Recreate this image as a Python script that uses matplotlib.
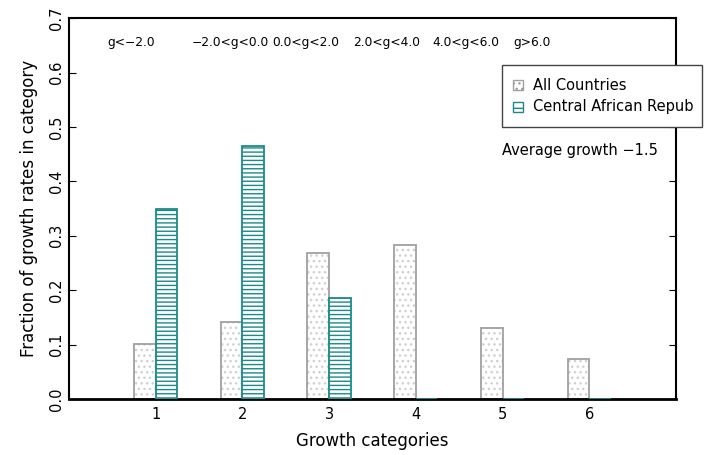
import matplotlib.pyplot as plt
import matplotlib.patches as mpatches
import numpy as np

plt.rcParams['font.family'] = ['DejaVu Sans']
plt.rcParams['hatch.linewidth'] = 1.0

# 数据
categories = [1, 2, 3, 4, 5, 6]
all_countries = [0.101, 0.142, 0.269, 0.284, 0.131, 0.073]
car = [0.349, 0.466, 0.186, 0.0, 0.0, 0.0]
range_labels = ['g<\u22122.0', '\u22122.0<g<0.0', '0.0<g<2.0', '2.0<g<4.0', '4.0<g<6.0', 'g>6.0']
label_x = [0.44, 1.42, 2.34, 3.28, 4.19, 5.13]
avg_growth = -1.5

fig = plt.figure(figsize=(7.16, 4.55), dpi=100)
ax = fig.add_axes([0.0964, 0.123, 0.8476, 0.837])

x = np.array(categories)
w = 0.25
gray_edge = '#a0a0a0'
teal = '#1a8a8a'

# All Countries: 点状填充
ax.bar(x - w, all_countries, w, align='edge', color='white',
       edgecolor='#d0d0d0', hatch='...', linewidth=0)
ax.bar(x - w, all_countries, w, align='edge', fill=False,
       edgecolor=gray_edge, linewidth=1.3)

# Central African Republic: 横线填充 (零值也画出底线)
ax.bar(x, car, w, align='edge', color='white',
       edgecolor=teal, hatch='----', linewidth=1.3, zorder=3)

ax.set_xlim(0, 7)
ax.set_ylim(0, 0.7)
ax.set_xticks(categories)
ax.set_yticks(np.arange(0, 0.71, 0.1))
ax.set_yticklabels([f'{v:.1f}' for v in np.arange(0, 0.71, 0.1)], rotation=90, va='center')
ax.tick_params(axis='y', direction='in', length=5, left=True, right=True, labelsize=10.5)
ax.tick_params(axis='x', direction='in', length=0, labelsize=10.5, pad=6)
for s in ax.spines.values():
    s.set_linewidth(1.5)
ax.spines['bottom'].set_linewidth(2)

ax.set_xlabel('Growth categories', fontsize=12, labelpad=7)
ax.set_ylabel('Fraction of growth rates in category', fontsize=12, labelpad=8)

for lx, lab in zip(label_x, range_labels):
    ax.text(lx, 0.656, lab, fontsize=8.8, ha='left', va='center')

# 图例 (右侧被截断)
leg_box = mpatches.Rectangle((502 / 716, 1 - 127 / 455), 200 / 716, 62 / 455,
                             transform=fig.transFigure, facecolor='white',
                             edgecolor='#444444', linewidth=1.0, zorder=5)
fig.patches.append(leg_box)
fig.patches.append(mpatches.Rectangle((513 / 716, 1 - 90 / 455), 10 / 716, 10 / 455,
                                      transform=fig.transFigure, facecolor='white',
                                      edgecolor='#a0a0a0', hatch='...', linewidth=1, zorder=6))
fig.patches.append(mpatches.Rectangle((513 / 716, 1 - 112 / 455), 10 / 716, 10 / 455,
                                      transform=fig.transFigure, facecolor='white',
                                      edgecolor=teal, hatch='-', linewidth=1, zorder=6))
fig.text(533 / 716, 1 - 85 / 455, 'All Countries', fontsize=10.5, va='center', zorder=7)
fig.text(533 / 716, 1 - 107 / 455, 'Central African Repub', fontsize=10.5, va='center', zorder=7)

fig.text(502 / 716, 1 - 150 / 455, f'Average growth \u2212{abs(avg_growth):.1f}', fontsize=10.5, va='center')

plt.savefig('out.png', dpi=100)
